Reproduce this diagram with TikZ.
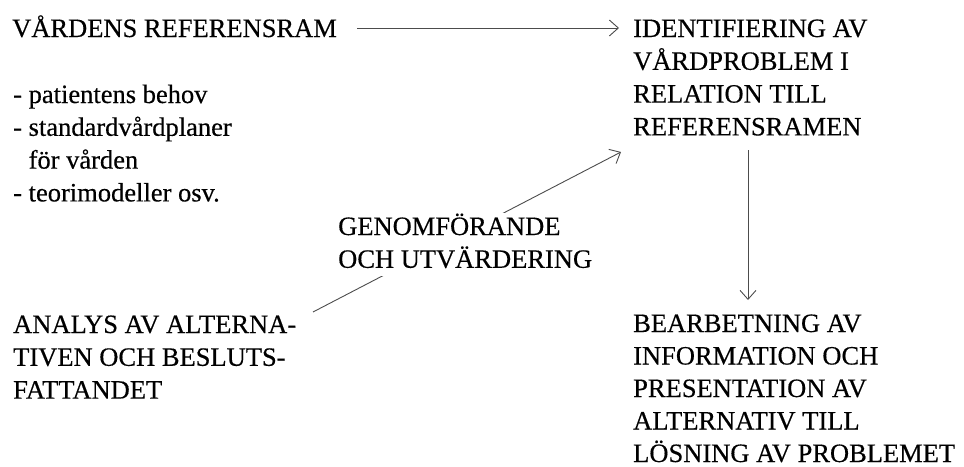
\documentclass[tikz,border=0pt]{standalone}
\usepackage{fontspec}
\setmainfont{Liberation Serif}[FakeBold=0.4]
\usetikzlibrary{arrows.meta,calc}
\begin{document}
\begin{tikzpicture}[x=1pt,y=-1pt,
  txt/.style={anchor=base west, inner sep=0pt, font=\fontsize{26.5}{32.8}\selectfont},
  lbl/.style={txt, fill=white, inner xsep=2pt, inner ysep=0.5pt},
  arr/.style={draw=black!70, line width=0.9pt, -{Straight Barb[length=9pt,width=16pt,line width=0.9pt]}}]
\useasboundingbox (0,0) rectangle (964,466);
\node[txt] (vr) at (12,37) {VÅRDENS REFERENSRAM};
\node[txt] (list) at (13,103) {\vtop{\hbox{- patientens behov}\hbox{- standardvårdplaner}\hbox{\phantom{- }för vården}\hbox{- teorimodeller osv.}}};
\node[txt] (id) at (633,37) {\vtop{\hbox{IDENTIFIERING AV}\hbox{VÅRDPROBLEM I}\hbox{RELATION TILL}\hbox{REFERENSRAMEN}}};
\node[txt] (an) at (13,333) {\vtop{\hbox{ANALYS AV ALTERNA-}\hbox{TIVEN OCH BESLUTS-}\hbox{FATTANDET}}};
\node[txt, font=\fontsize{26.5}{32.5}\selectfont] (bb) at (633,332) {\vtop{\hbox{BEARBETNING AV}\hbox{INFORMATION OCH}\hbox{PRESENTATION AV}\hbox{ALTERNATIV TILL}\hbox{LÖSNING AV PROBLEMET}}};
\draw[arr] ($(vr.base east)+(20,-9)$) -- ($(id.base west)+(-14,-9)$);
\draw[arr] ($(id.base west)+(115,113)$) -- ($(bb.base west)+(115,-32)$);
\draw[arr] ($(an.base west)+(300,-21)$) -- ($(id.base west)+(-12,115)$);
\node[lbl] (ge) at (336,235) {\vtop{\hbox{GENOMFÖRANDE}\hbox{OCH UTVÄRDERING}\kern7pt}};
\end{tikzpicture}
\end{document}
